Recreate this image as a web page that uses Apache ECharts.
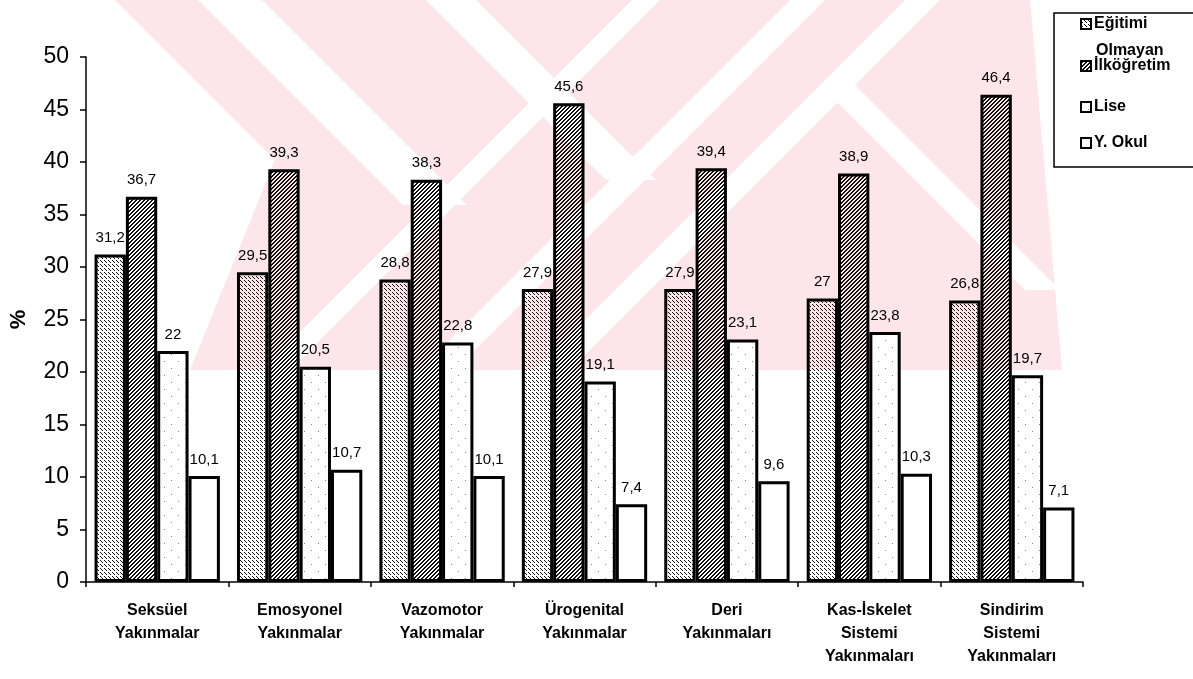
<!DOCTYPE html>
<html>
<head>
<meta charset="utf-8">
<script src="https://cdn.jsdelivr.net/npm/echarts@6/dist/echarts.min.js"></script>
<style>
  html, body { margin: 0; padding: 0; background: #ffffff; }
  #chart { width: 1193px; height: 679px; }
</style>
</head>
<body>
<div id="chart"></div>
<script>
// Şikayet grupları ve eğitim düzeyine göre yüzdeler
const categories = [
  'Seksüel\nYakınmalar',
  'Emosyonel\nYakınmalar',
  'Vazomotor\nYakınmalar',
  'Ürogenital\nYakınmalar',
  'Deri\nYakınmaları',
  'Kas-İskelet\nSistemi\nYakınmaları',
  'Sindirim\nSistemi\nYakınmaları'
];
const seriesNames = ['Eğitimi Olmayan', 'İlköğretim', 'Lise', 'Y. Okul'];
const egitimiOlmayan = [31.2, 29.5, 28.8, 27.9, 27.9, 27, 26.8];
const ilkogretim = [36.7, 39.3, 38.3, 45.6, 39.4, 38.9, 46.4];
const lise = [22, 20.5, 22.8, 19.1, 23.1, 23.8, 19.7];
const yuksekOkul = [10.1, 10.7, 10.1, 7.4, 9.6, 10.3, 7.1];
const yMin = 0, yMax = 50, yStep = 5;

// Dolgu desenleri: saydam zemin üzerinde noktalar / çapraz tarama
function makePattern(size, draw, bg) {
  const c = document.createElement('canvas');
  c.width = size; c.height = size;
  const g = c.getContext('2d');
  if (bg) { g.fillStyle = bg; g.fillRect(0, 0, size, size); }
  g.fillStyle = '#111111';
  draw(g);
  return c;
}
const dotted = makePattern(4, g => {
  g.fillRect(0, 0, 1, 1); g.fillRect(2, 2, 1, 1); g.fillRect(1, 1, 1, 1);
});
const hatched = makePattern(4, g => {
  for (let i = 0; i < 4; i++) { g.fillRect(i, 3 - i, 1, 1); g.fillRect((i + 1) % 4, 3 - i, 1, 1); }
});
const sparse = makePattern(14, g => {
  g.fillStyle = '#888888';
  g.fillRect(3, 4, 1, 1); g.fillRect(10, 11, 1, 1);
}, '#ffffff');

const fills = [
  { image: dotted, repeat: 'repeat' },
  { image: hatched, repeat: 'repeat' },
  { image: sparse, repeat: 'repeat' },
  '#ffffff'
];
const dataSets = [egitimiOlmayan, ilkogretim, lise, yuksekOkul];
const FONT = '"Liberation Sans", Arial, sans-serif';

const series = dataSets.map((d, i) => ({
  name: seriesNames[i],
  type: 'bar',
  data: d,
  barGap: '0%',
  barCategoryGap: '12%',
  itemStyle: { color: fills[i], borderColor: '#000', borderWidth: 3 },
  label: {
    show: true,
    position: 'top',
    distance: 9,
    color: '#000',
    fontFamily: FONT,
    fontSize: 15,
    formatter: p => String(p.value).replace('.', ',')
  }
}));

// Arka plandaki soluk kırmızı amblem: pembe zemin ve üzerindeki beyaz çapraz şeritler
const WM_PINK = '#fde6ea';
const WM_BOTTOM = 370;
function backStripe(a, b, y0, y1) {   // x - y sabit olan "\" şerit
  return [[a + y0, y0], [b + y0, y0], [b + y1, y1], [a + y1, y1]];
}
function fwdStripe(a, b, y0, y1) {    // x + y sabit olan "/" şerit
  return [[a - y0, y0], [b - y0, y0], [b - y1, y1], [a - y1, y1]];
}
const emblem = [
  { points: [[115, 0], [1030, 0], [1062, WM_BOTTOM], [190, WM_BOTTOM], [275, 160]], fill: WM_PINK },
  { points: backStripe(198, 262, 0, 205), fill: '#ffffff' },
  { points: backStripe(426, 476, 0, 180), fill: '#ffffff' },
  { points: fwdStripe(632, 660, 0, WM_BOTTOM), fill: '#ffffff' },
  { points: fwdStripe(790, 825, 0, WM_BOTTOM), fill: '#ffffff' },
  { points: fwdStripe(905, 940, 0, WM_BOTTOM), fill: '#ffffff' },
  { points: backStripe(735, 770, 85, 290), fill: '#ffffff' }
];
const graphics = emblem.map(p => ({
  type: 'polygon', silent: true, z: -10,
  shape: { points: p.points },
  style: { fill: p.fill }
}));

// Açıklama kutusu
const legendItems = [
  { y: 24, text: 'Eğitimi', fill: fills[0] },
  { y: 66, text: 'İlköğretim', fill: fills[1] },
  { y: 107, text: 'Lise', fill: fills[2] },
  { y: 143, text: 'Y. Okul', fill: fills[3] }
];
graphics.push({ type: 'rect', shape: { x: 1054, y: 13, width: 160, height: 154 },
  style: { fill: '#fff', stroke: '#000', lineWidth: 1.5 }, z: 1 });
legendItems.forEach(it => {
  graphics.push({ type: 'rect', shape: { x: 1081, y: it.y - 5, width: 10, height: 10 },
    style: { fill: '#fff', stroke: '#000', lineWidth: 2 }, z: 2 });
  graphics.push({ type: 'rect', shape: { x: 1081, y: it.y - 5, width: 10, height: 10 },
    style: { fill: it.fill, stroke: '#000', lineWidth: 2 }, z: 3 });
  graphics.push({ type: 'text', x: 1094, y: it.y,
    style: { text: it.text, fill: '#000', font: 'bold 16px ' + FONT, textVerticalAlign: 'middle' }, z: 3 });
});
graphics.push({ type: 'text', x: 1096, y: 51,
  style: { text: 'Olmayan', fill: '#000', font: 'bold 16px ' + FONT, textVerticalAlign: 'middle' }, z: 3 });

const chart = echarts.init(document.getElementById('chart'), null, { renderer: 'canvas' });
chart.setOption({
  backgroundColor: '#ffffff',
  animation: false,
  legend: { show: false },
  grid: { left: 86, right: 110, top: 57, bottom: 97, containLabel: false, outerBoundsMode: 'none' },
  xAxis: {
    type: 'category',
    data: categories,
    axisLine: { lineStyle: { color: '#000', width: 1.5 } },
    axisTick: { show: true, length: 5, lineStyle: { color: '#000', width: 1.5 } },
    axisLabel: {
      color: '#000', fontFamily: FONT, fontWeight: 'bold', fontSize: 16,
      lineHeight: 23, margin: 17, interval: 0
    }
  },
  yAxis: {
    type: 'value',
    min: yMin, max: yMax, interval: yStep,
    name: '%',
    nameLocation: 'middle',
    nameGap: 56,
    nameRotate: 90,
    nameTextStyle: { color: '#000', fontFamily: FONT, fontWeight: 'bold', fontSize: 22 },
    axisLine: { show: true, lineStyle: { color: '#000', width: 1.5 } },
    axisTick: { show: true, length: 6, lineStyle: { color: '#000', width: 1.5 } },
    splitLine: { show: false },
    axisLabel: { color: '#000', fontFamily: FONT, fontSize: 23, margin: 17 }
  },
  graphic: graphics,
  series: series
});
</script>
</body>
</html>
